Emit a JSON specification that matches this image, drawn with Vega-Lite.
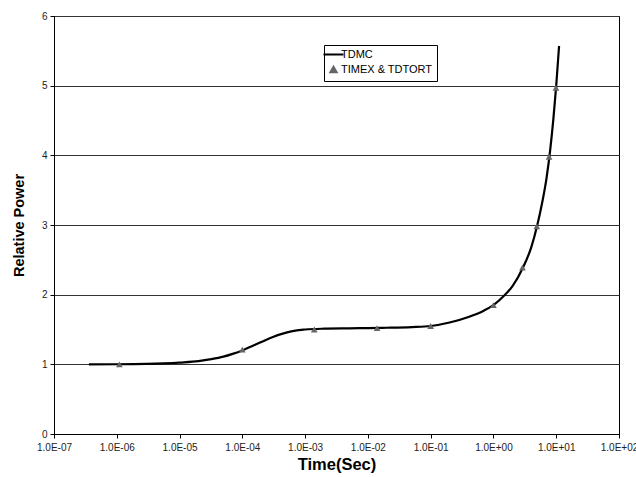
{
  "$schema": "https://vega.github.io/schema/vega-lite/v6.json",
  "width": 565,
  "height": 418,
  "autosize": {"type": "none"},
  "padding": {"left": 54, "top": 16, "right": 17, "bottom": 43},
  "background": "white",
  "config": {
    "font": "Liberation Sans",
    "view": {"stroke": "black", "strokeWidth": 1},
    "axis": {
      "labelFont": "Liberation Sans",
      "titleFont": "Liberation Sans",
      "labelColor": "#222222",
      "titleColor": "black",
      "domainColor": "black",
      "tickColor": "black",
      "labelFontSize": 10,
      "tickSize": 4
    }
  },
  "datasets": {
    "curve": [
      {"t": 3.6e-7, "p": 1.0, "series": "TDMC"},
      {"t": 1e-6, "p": 1.001, "series": "TDMC"},
      {"t": 3e-6, "p": 1.006, "series": "TDMC"},
      {"t": 1e-5, "p": 1.025, "series": "TDMC"},
      {"t": 2e-5, "p": 1.045, "series": "TDMC"},
      {"t": 3e-5, "p": 1.07, "series": "TDMC"},
      {"t": 5e-5, "p": 1.11, "series": "TDMC"},
      {"t": 7e-5, "p": 1.15, "series": "TDMC"},
      {"t": 1e-4, "p": 1.2, "series": "TDMC"},
      {"t": 1.5e-4, "p": 1.27, "series": "TDMC"},
      {"t": 2e-4, "p": 1.32, "series": "TDMC"},
      {"t": 3e-4, "p": 1.39, "series": "TDMC"},
      {"t": 5e-4, "p": 1.455, "series": "TDMC"},
      {"t": 7e-4, "p": 1.485, "series": "TDMC"},
      {"t": 1e-3, "p": 1.5, "series": "TDMC"},
      {"t": 2e-3, "p": 1.512, "series": "TDMC"},
      {"t": 5e-3, "p": 1.517, "series": "TDMC"},
      {"t": 1e-2, "p": 1.52, "series": "TDMC"},
      {"t": 2e-2, "p": 1.525, "series": "TDMC"},
      {"t": 5e-2, "p": 1.535, "series": "TDMC"},
      {"t": 1e-1, "p": 1.55, "series": "TDMC"},
      {"t": 2e-1, "p": 1.6, "series": "TDMC"},
      {"t": 4e-1, "p": 1.68, "series": "TDMC"},
      {"t": 7e-1, "p": 1.77, "series": "TDMC"},
      {"t": 1, "p": 1.85, "series": "TDMC"},
      {"t": 1.5, "p": 1.99, "series": "TDMC"},
      {"t": 2, "p": 2.12, "series": "TDMC"},
      {"t": 3, "p": 2.4, "series": "TDMC"},
      {"t": 4, "p": 2.68, "series": "TDMC"},
      {"t": 5, "p": 3.0, "series": "TDMC"},
      {"t": 6, "p": 3.33, "series": "TDMC"},
      {"t": 7, "p": 3.67, "series": "TDMC"},
      {"t": 8, "p": 4.07, "series": "TDMC"},
      {"t": 9, "p": 4.52, "series": "TDMC"},
      {"t": 10, "p": 5.0, "series": "TDMC"},
      {"t": 11.1, "p": 5.57, "series": "TDMC"}
    ],
    "pts": [
      {"t": 1.1e-6, "p": 1.0, "series": "TIMEX & TDTORT"},
      {"t": 1e-4, "p": 1.21, "series": "TIMEX & TDTORT"},
      {"t": 1.4e-3, "p": 1.5, "series": "TIMEX & TDTORT"},
      {"t": 1.4e-2, "p": 1.52, "series": "TIMEX & TDTORT"},
      {"t": 1e-1, "p": 1.55, "series": "TIMEX & TDTORT"},
      {"t": 1, "p": 1.85, "series": "TIMEX & TDTORT"},
      {"t": 2.9, "p": 2.39, "series": "TIMEX & TDTORT"},
      {"t": 4.9, "p": 2.98, "series": "TIMEX & TDTORT"},
      {"t": 7.7, "p": 3.98, "series": "TIMEX & TDTORT"},
      {"t": 9.9, "p": 4.97, "series": "TIMEX & TDTORT"}
    ]
  },
  "encoding": {
    "x": {
      "field": "t",
      "type": "quantitative",
      "title": "Time(Sec)",
      "scale": {"type": "log", "domain": [1e-7, 100], "nice": false},
      "axis": {
        "values": [1e-7, 1e-6, 1e-5, 1e-4, 1e-3, 1e-2, 1e-1, 1, 10, 100],
        "grid": false,
        "labelExpr": "'1.0E' + (round(log(datum.value)/LN10) < 0 ? '-' : '+') + (abs(round(log(datum.value)/LN10)) < 10 ? '0' : '') + abs(round(log(datum.value)/LN10))",
        "labelPadding": 4,
        "labelOverlap": false,
        "labelFlush": false,
        "titleFontSize": 16.5,
        "titleFontWeight": "bold",
        "titlePadding": 4
      }
    },
    "y": {
      "field": "p",
      "type": "quantitative",
      "title": "Relative Power",
      "scale": {"domain": [0, 6], "nice": false},
      "axis": {
        "values": [0, 1, 2, 3, 4, 5, 6],
        "grid": true,
        "gridColor": "#333333",
        "gridWidth": 1,
        "labelPadding": 3,
        "labelFontSize": 10,
        "titleFontSize": 14.5,
        "titleFontWeight": "bold",
        "titlePadding": 15
      }
    },
    "color": {
      "field": "series",
      "type": "nominal",
      "scale": {"domain": ["TDMC", "TIMEX & TDTORT"], "range": ["black", "#666666"]},
      "legend": {
        "title": null,
        "orient": "none",
        "legendX": 270,
        "legendY": 29,
        "strokeColor": "black",
        "fillColor": "white",
        "padding": 4,
        "labelFont": "Liberation Sans",
        "labelFontSize": 11,
        "labelColor": "black",
        "symbolSize": 400,
        "labelOffset": 2,
        "rowPadding": 2,
        "encode": {
          "symbols": {
            "update": {
              "shape": {"signal": "datum.value === 'TDMC' ? 'stroke' : 'triangle-up'"},
              "size": {"signal": "datum.value === 'TDMC' ? 400 : 40"},
              "fill": {"signal": "datum.value === 'TDMC' ? 'transparent' : '#666666'"},
              "stroke": {"signal": "datum.value === 'TDMC' ? 'black' : 'transparent'"},
              "strokeWidth": {"value": 2}
            }
          }
        }
      }
    }
  },
  "layer": [
    {
      "data": {"name": "curve"},
      "mark": {"type": "line", "strokeWidth": 2.2, "interpolate": "monotone"}
    },
    {
      "data": {"name": "pts"},
      "mark": {"type": "point", "shape": "triangle-up", "filled": true, "size": 45, "opacity": 1}
    }
  ]
}
